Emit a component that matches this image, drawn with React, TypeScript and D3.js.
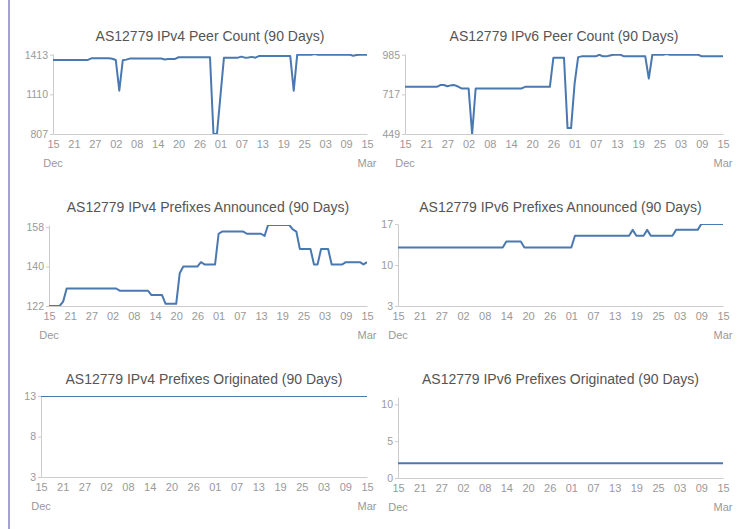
import React, { useEffect, useRef } from "react";
import * as d3 from "d3";

// x axis: day offsets from 15 Dec, one tick every 6 days
const tickDays = [0, 6, 12, 18, 24, 30, 36, 42, 48, 54, 60, 66, 72, 78, 84, 90];
const tickLabels = ["15", "21", "27", "02", "08", "14", "20", "26", "01", "07", "13", "19", "25", "03", "09", "15"];
const startMonth = "Dec";
const endMonth = "Mar";

// daily values, 15 Dec .. 15 Mar (91 points)
const ipv4PeerCount = [
  1373, 1373, 1373, 1373, 1373, 1373, 1373, 1373, 1373, 1373,
  1373, 1385, 1385, 1385, 1385, 1385, 1385, 1382, 1372, 1138,
  1370, 1375, 1383, 1383, 1383, 1383, 1383, 1383, 1383, 1383,
  1383, 1383, 1376, 1380, 1380, 1380, 1393, 1393, 1393, 1393,
  1393, 1393, 1393, 1393, 1393, 1393, 807, 807, 1100, 1390,
  1390, 1390, 1390, 1390, 1398, 1390, 1392, 1396, 1390, 1402,
  1402, 1402, 1402, 1402, 1402, 1402, 1402, 1402, 1402, 1138,
  1413, 1413, 1413, 1413, 1413, 1417, 1413, 1413, 1413, 1413,
  1413, 1413, 1413, 1413, 1413, 1413, 1405, 1410, 1413, 1413,
  1413,
];

const ipv6PeerCount = [
  768, 768, 768, 768, 768, 768, 768, 768, 768, 768,
  780, 780, 772, 778, 780, 770, 757, 757, 757, 449,
  757, 757, 757, 757, 757, 757, 757, 757, 757, 757,
  757, 757, 757, 757, 768, 768, 768, 768, 768, 768,
  768, 768, 965, 965, 965, 965, 489, 489, 790, 969,
  974, 974, 974, 974, 974, 985, 974, 974, 980, 985,
  985, 985, 974, 974, 974, 974, 974, 974, 974, 824,
  985, 985, 985, 985, 990, 985, 985, 985, 985, 985,
  985, 985, 985, 985, 974, 974, 974, 974, 974, 974,
  974,
];

const ipv4Announced = [
  122, 122, 122, 122, 124, 130, 130, 130, 130, 130,
  130, 130, 130, 130, 130, 130, 130, 130, 130, 130,
  129, 129, 129, 129, 129, 129, 129, 129, 129, 127,
  127, 127, 127, 123, 123, 123, 123, 137, 140, 140,
  140, 140, 140, 142, 141, 141, 141, 141, 155, 156,
  156, 156, 156, 156, 156, 156, 155, 155, 155, 155,
  155, 154, 159, 159, 159, 159, 159, 159, 159, 157,
  156, 148, 148, 148, 148, 141, 141, 148, 148, 148,
  141, 141, 141, 141, 142, 142, 142, 142, 142, 141,
  142,
];

const ipv6Announced = [
  13, 13, 13, 13, 13, 13, 13, 13, 13, 13,
  13, 13, 13, 13, 13, 13, 13, 13, 13, 13,
  13, 13, 13, 13, 13, 13, 13, 13, 13, 13,
  14, 14, 14, 14, 14, 13, 13, 13, 13, 13,
  13, 13, 13, 13, 13, 13, 13, 13, 13, 15,
  15, 15, 15, 15, 15, 15, 15, 15, 15, 15,
  15, 15, 15, 15, 15, 16, 15, 15, 15, 16,
  15, 15, 15, 15, 15, 15, 15, 16, 16, 16,
  16, 16, 16, 16, 17, 17, 17, 17, 17, 17,
  17,
];

const ipv4Originated = [
  13, 13, 13, 13, 13, 13, 13, 13, 13, 13,
  13, 13, 13, 13, 13, 13, 13, 13, 13, 13,
  13, 13, 13, 13, 13, 13, 13, 13, 13, 13,
  13, 13, 13, 13, 13, 13, 13, 13, 13, 13,
  13, 13, 13, 13, 13, 13, 13, 13, 13, 13,
  13, 13, 13, 13, 13, 13, 13, 13, 13, 13,
  13, 13, 13, 13, 13, 13, 13, 13, 13, 13,
  13, 13, 13, 13, 13, 13, 13, 13, 13, 13,
  13, 13, 13, 13, 13, 13, 13, 13, 13, 13,
  13,
];

const ipv6Originated = [
  2, 2, 2, 2, 2, 2, 2, 2, 2, 2,
  2, 2, 2, 2, 2, 2, 2, 2, 2, 2,
  2, 2, 2, 2, 2, 2, 2, 2, 2, 2,
  2, 2, 2, 2, 2, 2, 2, 2, 2, 2,
  2, 2, 2, 2, 2, 2, 2, 2, 2, 2,
  2, 2, 2, 2, 2, 2, 2, 2, 2, 2,
  2, 2, 2, 2, 2, 2, 2, 2, 2, 2,
  2, 2, 2, 2, 2, 2, 2, 2, 2, 2,
  2, 2, 2, 2, 2, 2, 2, 2, 2, 2,
  2,
];

const FONT = "'Liberation Sans', Arial, Helvetica, sans-serif";
const LINE = "#4a78b0";
const AXIS = "#cccccc";
const LABEL = "#999999";

type ChartProps = {
  id: string;
  title: string;
  values: number[];
  yDomain: [number, number];
  yTicks: number[];
  left: number;
  right: number;
  top: number;
  bottom: number;
  titleY: number;
};

function MiniChart(props: ChartProps) {
  const { id, title, values, yDomain, yTicks, left, right, top, bottom, titleY } = props;
  const ref = useRef<SVGGElement>(null);

  useEffect(() => {
    const g = d3.select(ref.current);
    g.selectAll("*").remove();

    const x = d3.scaleLinear().domain([0, 90]).range([left, right]);
    const y = d3.scaleLinear().domain(yDomain).range([bottom, top]);

    g.append("clipPath")
      .attr("id", id)
      .append("rect")
      .attr("x", left)
      .attr("y", top)
      .attr("width", right - left)
      .attr("height", bottom - top);

    const yAxis = g.append("g")
      .attr("transform", `translate(${left},0)`)
      .call(
        d3.axisLeft(y)
          .tickValues(yTicks)
          .tickFormat(d3.format("d"))
          .tickSize(3)
          .tickSizeOuter(0)
          .tickPadding(2)
      );

    const xAxis = g.append("g")
      .attr("transform", `translate(0,${bottom})`)
      .call(
        d3.axisBottom(x)
          .tickValues(tickDays)
          .tickFormat((d, i) => tickLabels[i])
          .tickSize(0)
          .tickSizeOuter(0)
          .tickPadding(6)
      );

    yAxis.attr("font-size", 10.5);
    xAxis.attr("font-size", 11);
    [yAxis, xAxis].forEach(a => {
      a.attr("font-family", FONT);
      a.select(".domain").attr("stroke", AXIS);
      a.selectAll(".tick line").attr("stroke", AXIS);
      a.selectAll(".tick text").attr("fill", LABEL);
    });

    const line = d3.line<number>()
      .x((d, i) => x(i))
      .y(d => y(d));

    g.append("path")
      .datum(values)
      .attr("clip-path", `url(#${id})`)
      .attr("fill", "none")
      .attr("stroke", LINE)
      .attr("stroke-width", 2)
      .attr("stroke-linejoin", "round")
      .attr("d", line);

    g.append("text")
      .attr("x", (left + right) / 2)
      .attr("y", titleY)
      .attr("text-anchor", "middle")
      .attr("font-family", FONT)
      .attr("font-size", 14)
      .attr("fill", "#555")
      .text(title);

    [[0, startMonth], [90, endMonth]].forEach(([d, m]) => {
      g.append("text")
        .attr("x", x(d as number))
        .attr("y", bottom + 33)
        .attr("text-anchor", "middle")
        .attr("font-family", FONT)
        .attr("font-size", 11)
        .attr("fill", LABEL)
        .text(m as string);
    });
  }, [id, title, values, yDomain, yTicks, left, right, top, bottom, titleY]);

  return <g ref={ref} />;
}

export default function App() {
  return (
    <svg width={752} height={529} style={{ position: "absolute", left: 0, top: 0, background: "#fff" }}>
      <line x1={9} x2={9} y1={0} y2={529} stroke="#a3a3d3" strokeWidth={2} />
      <MiniChart id="c1" title="AS12779 IPv4 Peer Count (90 Days)" values={ipv4PeerCount}
        yDomain={[807, 1418]} yTicks={[807, 1110, 1413]}
        left={53} right={367} top={54} bottom={134} titleY={41} />
      <MiniChart id="c2" title="AS12779 IPv6 Peer Count (90 Days)" values={ipv6PeerCount}
        yDomain={[449, 990]} yTicks={[449, 717, 985]}
        left={405} right={723} top={54} bottom={134} titleY={41} />
      <MiniChart id="c3" title="AS12779 IPv4 Prefixes Announced (90 Days)" values={ipv4Announced}
        yDomain={[122, 159]} yTicks={[122, 140, 158]}
        left={49} right={367} top={225} bottom={306} titleY={212} />
      <MiniChart id="c4" title="AS12779 IPv6 Prefixes Announced (90 Days)" values={ipv6Announced}
        yDomain={[3, 17]} yTicks={[3, 10, 17]}
        left={398} right={723} top={224} bottom={306} titleY={212} />
      <MiniChart id="c5" title="AS12779 IPv4 Prefixes Originated (90 Days)" values={ipv4Originated}
        yDomain={[3, 13]} yTicks={[3, 8, 13]}
        left={41} right={367} top={396} bottom={477} titleY={384} />
      <MiniChart id="c6" title="AS12779 IPv6 Prefixes Originated (90 Days)" values={ipv6Originated}
        yDomain={[0, 11]} yTicks={[0, 5, 10]}
        left={398} right={723} top={397} bottom={478} titleY={384} />
    </svg>
  );
}
